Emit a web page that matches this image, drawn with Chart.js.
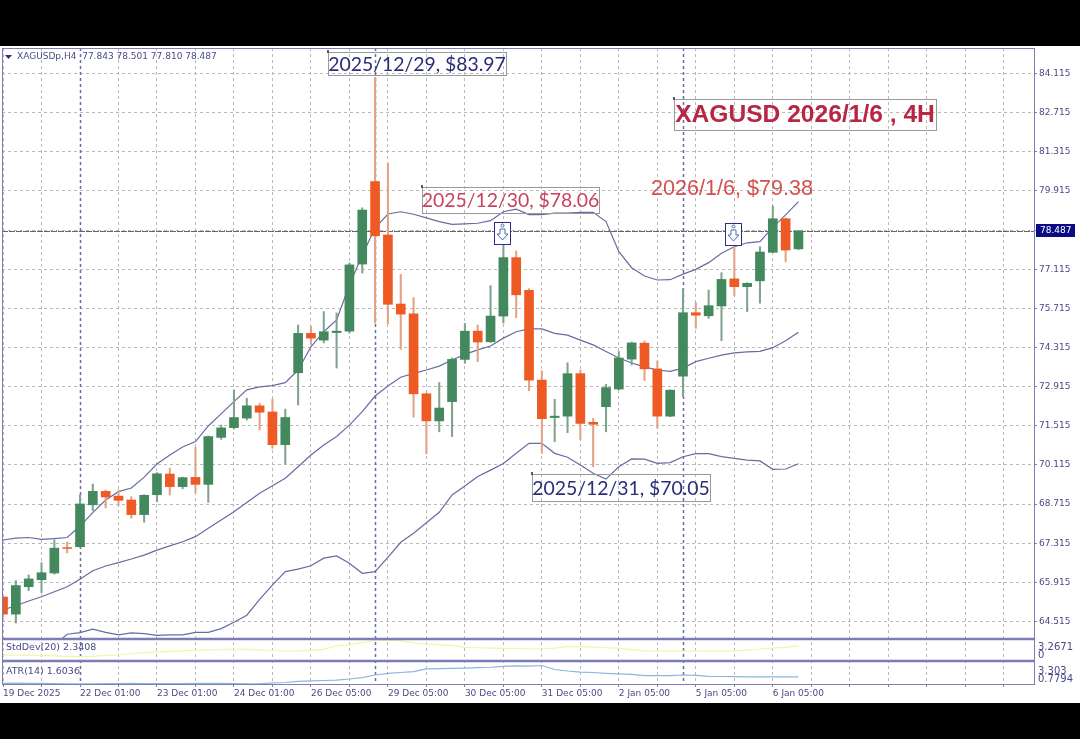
<!DOCTYPE html>
<html>
<head>
<meta charset="utf-8">
<title>XAGUSD 2026/1/6 4H</title>
<script src="https://cdn.jsdelivr.net/npm/chart.js@4/dist/chart.umd.js"></script>
<style>
  html, body { margin: 0; padding: 0; background: #000; overflow: hidden; }
  #wrap { position: absolute; left: 0; top: 46px; width: 1080px; height: 657px; background: #fff; }
  canvas { display: block; }
</style>
</head>
<body>
<div id="wrap"><canvas id="chart" width="1080" height="657"></canvas></div>
<script>
// 4H candles, one entry per bar
const opens = [65.39, 64.78, 65.76, 66.01, 66.25, 67.16, 67.19, 68.69, 69.17, 69.00, 68.86, 68.34, 69.05, 69.79, 69.34, 69.67, 69.42, 71.10, 71.45, 71.79, 72.23, 72.01, 70.84, 73.41, 74.82, 74.58, 74.85, 74.90, 77.30, 80.25, 78.34, 75.87, 75.52, 72.66, 71.69, 72.38, 73.89, 74.90, 74.52, 75.44, 77.53, 76.36, 73.15, 71.81, 71.86, 73.38, 71.64, 72.20, 72.83, 73.90, 74.47, 73.55, 71.86, 73.29, 75.56, 75.45, 75.80, 76.77, 76.49, 76.70, 77.72, 78.92, 77.843];
const highs = [65.46, 65.98, 66.18, 66.62, 67.43, 67.36, 69.04, 69.43, 69.22, 69.22, 68.98, 69.05, 69.84, 70.00, 69.68, 70.75, 71.15, 71.54, 72.80, 72.50, 72.32, 72.46, 72.11, 75.12, 75.08, 75.60, 75.55, 77.34, 79.31, 83.97, 80.91, 76.93, 76.10, 72.69, 73.06, 73.94, 75.18, 75.12, 76.53, 78.06, 77.77, 76.42, 73.48, 72.46, 73.77, 73.51, 71.78, 73.00, 74.17, 74.51, 74.55, 73.83, 72.80, 76.43, 75.92, 76.37, 76.99, 77.92, 76.63, 77.92, 79.38, 78.95, 78.501];
const lows = [64.68, 64.46, 65.62, 65.54, 66.21, 66.97, 67.18, 68.48, 68.58, 68.66, 68.21, 68.07, 68.80, 69.04, 69.26, 69.12, 68.78, 71.03, 71.40, 71.72, 71.37, 70.71, 70.15, 72.26, 74.41, 74.48, 73.58, 74.83, 76.98, 75.19, 75.16, 74.25, 71.82, 70.51, 71.30, 71.13, 73.75, 73.81, 74.50, 75.19, 75.38, 72.77, 70.53, 70.95, 71.27, 71.03, 70.05, 71.30, 72.80, 73.69, 73.13, 71.43, 71.84, 72.56, 75.00, 75.36, 74.56, 76.16, 75.60, 75.90, 77.71, 77.38, 77.810];
const closes = [64.78, 65.80, 66.04, 66.26, 67.14, 67.13, 68.72, 69.17, 68.97, 68.85, 68.34, 69.03, 69.80, 69.34, 69.66, 69.42, 71.13, 71.44, 71.81, 72.23, 72.00, 70.84, 71.81, 74.82, 74.65, 74.88, 74.90, 77.27, 79.23, 78.31, 75.86, 75.51, 72.66, 71.69, 72.15, 73.89, 74.90, 74.51, 75.44, 77.53, 76.20, 73.15, 71.77, 71.86, 73.38, 71.60, 71.57, 72.88, 73.94, 74.48, 73.55, 71.86, 72.79, 75.56, 75.47, 75.81, 76.75, 76.49, 76.61, 77.73, 78.92, 77.80, 78.487];

// Bollinger bands; the lower one starts under the pane
const bandUpper = [67.43, 67.50, 67.52, 67.45, 67.48, 67.52, 67.93, 68.41, 68.86, 69.16, 69.29, 69.68, 70.15, 70.47, 70.76, 70.95, 71.51, 71.94, 72.38, 72.80, 72.91, 72.95, 73.06, 73.51, 74.34, 74.88, 75.30, 76.55, 77.62, 78.59, 79.09, 79.17, 79.08, 78.95, 78.82, 78.72, 78.74, 78.76, 78.85, 79.17, 79.26, 79.07, 79.07, 79.12, 79.12, 79.15, 79.15, 78.82, 77.74, 77.17, 76.87, 76.73, 76.74, 76.94, 77.11, 77.35, 77.69, 77.92, 78.06, 78.10, 78.61, 79.06, 79.53];
const bandMiddle = [64.93, 65.08, 65.25, 65.40, 65.58, 65.76, 66.03, 66.33, 66.50, 66.62, 66.75, 66.89, 67.07, 67.22, 67.37, 67.55, 67.85, 68.15, 68.44, 68.77, 69.10, 69.37, 69.64, 70.05, 70.47, 70.83, 71.13, 71.54, 72.02, 72.58, 72.94, 73.25, 73.39, 73.51, 73.65, 73.87, 74.07, 74.23, 74.37, 74.65, 74.88, 74.98, 74.98, 74.82, 74.76, 74.58, 74.41, 74.17, 73.94, 73.76, 73.62, 73.51, 73.46, 73.58, 73.81, 73.93, 74.04, 74.12, 74.16, 74.18, 74.31, 74.56, 74.86];
const bandLower = [null, null, null, null, 63.67, 64.06, 64.12, 64.24, 64.13, 64.04, 64.11, 64.08, 64.02, 64.04, 64.04, 64.13, 64.13, 64.26, 64.49, 64.74, 65.31, 65.82, 66.30, 66.39, 66.51, 66.78, 66.86, 66.60, 66.24, 66.30, 66.81, 67.35, 67.67, 68.05, 68.42, 69.04, 69.36, 69.70, 69.93, 70.17, 70.53, 70.89, 70.89, 70.53, 70.39, 70.11, 69.82, 69.61, 70.05, 70.33, 70.32, 70.17, 70.20, 70.41, 70.52, 70.52, 70.41, 70.35, 70.29, 70.26, 69.96, 69.97, 70.16];

// lower panes
const stdDev = [0.80, 0.78, 0.75, 0.72, 0.68, 0.60, 0.55, 0.60, 0.75, 0.82, 1.06, 1.20, 1.30, 1.40, 1.50, 1.63, 1.65, 1.70, 1.80, 1.75, 1.65, 1.55, 1.47, 1.50, 1.63, 1.75, 2.30, 2.50, 2.85, 3.20, 3.25, 3.15, 2.80, 2.60, 2.50, 2.35, 2.05, 2.00, 1.95, 1.90, 1.90, 1.80, 1.85, 1.95, 2.20, 2.20, 2.10, 2.00, 1.90, 1.70, 1.50, 1.47, 1.45, 1.47, 1.47, 1.45, 1.45, 1.50, 1.60, 1.80, 1.95, 2.05, 2.3408];
const atr = [0.85, 0.88, 0.86, 0.84, 0.82, 0.80, 0.80, 0.81, 0.82, 0.83, 0.84, 0.83, 0.82, 0.82, 0.83, 0.85, 0.85, 0.84, 0.82, 0.80, 0.79, 0.90, 0.95, 1.07, 1.14, 1.18, 1.22, 1.35, 1.52, 1.81, 2.00, 2.10, 2.20, 2.52, 2.55, 2.57, 2.61, 2.65, 2.70, 2.80, 2.85, 2.84, 2.90, 2.44, 2.27, 2.15, 2.10, 2.00, 1.93, 1.88, 1.73, 1.73, 1.75, 1.81, 1.78, 1.66, 1.64, 1.62, 1.60, 1.60, 1.60, 1.60, 1.6036];

// axes
const xTickLabels = ["19 Dec 2025", "22 Dec 01:00", "23 Dec 01:00", "24 Dec 01:00", "26 Dec 05:00", "29 Dec 05:00", "30 Dec 05:00", "31 Dec 05:00", "2 Jan 05:00", "5 Jan 05:00", "6 Jan 05:00"];
const yTickValues = [84.115, 82.715, 81.315, 79.915, 78.515, 77.115, 75.715, 74.315, 72.915, 71.515, 70.115, 68.715, 67.315, 65.915, 64.515];
const weekSeparators = [6, 29, 53];
const lastPrice = 78.487;

const GREEN = "#44885d";
const ORANGE = "#ee5a24";
const GREEN_WICK = "#7fa48d";
const ORANGE_WICK = "#e3a283";
const FRAME = "#7d7db5";
const AXIS_TEXT = "#4a4a86";
const NAVY = "#2c2c78";
const CRIMSON = "#c9415f";

const isUp = closes.map((c, i) => c >= opens[i]);

function boxedText(ctx, text, font, color, x, y, w, h) {
  ctx.strokeStyle = "#9a9a9a";
  ctx.lineWidth = 1;
  ctx.strokeRect(x + 0.5, y + 0.5, w, h);
  // little anchor tick on the box corner
  ctx.fillStyle = "#55557a";
  ctx.fillRect(x - 1, y - 2, 2, 3);
  ctx.font = font;
  ctx.fillStyle = color;
  ctx.textAlign = "center";
  ctx.textBaseline = "middle";
  ctx.fillText(text, x + w / 2, y + h / 2 + 1);
}

function sellArrow(ctx, x, y) {
  ctx.strokeStyle = "#2d2d80";
  ctx.lineWidth = 1;
  ctx.strokeRect(x + 0.5, y + 0.5, 16, 22);
  ctx.fillStyle = "#fff";
  ctx.fillRect(x + 1, y + 1, 15, 21);
  ctx.strokeStyle = "#4a6bb0";
  ctx.beginPath();
  ctx.arc(x + 8.5, y + 3.5, 1.5, 0, Math.PI * 2);
  ctx.stroke();
  ctx.beginPath();
  ctx.moveTo(x + 6, y + 7);
  ctx.lineTo(x + 11, y + 7);
  ctx.lineTo(x + 11, y + 12);
  ctx.lineTo(x + 14, y + 12);
  ctx.lineTo(x + 8.5, y + 18);
  ctx.lineTo(x + 3, y + 12);
  ctx.lineTo(x + 6, y + 12);
  ctx.closePath();
  ctx.stroke();
}

const chartDecor = {
  id: "chartDecor",
  beforeDatasetsDraw(chart) {
    const { ctx, chartArea, scales } = chart;
    ctx.save();
    // heavier separators at the start of each week
    ctx.strokeStyle = "#6a6aa6";
    ctx.lineWidth = 1.5;
    ctx.setLineDash([3, 3]);
    weekSeparators.forEach((bar) => {
      const x = Math.round(scales.x.getPixelForValue(bar)) + 0.5;
      ctx.beginPath();
      ctx.moveTo(x, chartArea.top);
      ctx.lineTo(x, chartArea.bottom);
      ctx.stroke();
    });
    // last price line
    const py = Math.round(scales.y.getPixelForValue(lastPrice)) + 0.5;
    ctx.strokeStyle = "#666";
    ctx.lineWidth = 1;
    ctx.setLineDash([6, 1]);
    ctx.beginPath();
    ctx.moveTo(chartArea.left, py);
    ctx.lineTo(chartArea.right, py);
    ctx.stroke();
    ctx.restore();
  },
  afterDraw(chart) {
    const { ctx, chartArea, scales } = chart;
    const { left, right, top, bottom } = chartArea;
    ctx.save();

    // pane frame
    ctx.strokeStyle = FRAME;
    ctx.lineWidth = 1;
    ctx.strokeRect(left + 0.5, top + 0.5, right - left, bottom - top);
    ctx.lineWidth = 2.5;
    [scales.yStd.top, scales.yAtr.top].forEach((y) => {
      ctx.beginPath();
      ctx.moveTo(left, y);
      ctx.lineTo(right, y);
      ctx.stroke();
    });

    // indicator names
    ctx.fillStyle = AXIS_TEXT;
    ctx.font = "9px 'DejaVu Sans'";
    ctx.textAlign = "left";
    ctx.textBaseline = "middle";
    ctx.fillText("XAGUSDp,H4  77.843 78.501 77.810 78.487", 17, 11);
    ctx.font = "9.5px 'DejaVu Sans'";
    ctx.fillText("StdDev(20) 2.3408", 6, 602);
    ctx.fillText("ATR(14) 1.6036", 6, 626);
    ctx.fillStyle = "#2c2c78";
    ctx.beginPath();
    ctx.moveTo(5, 9);
    ctx.lineTo(12, 9);
    ctx.lineTo(8.5, 13);
    ctx.closePath();
    ctx.fill();

    // right side labels of the lower panes
    ctx.fillStyle = AXIS_TEXT;
    ctx.font = "10px 'DejaVu Sans'";
    ctx.fillText("3.2671", 1038, 601.5);
    ctx.fillText("0", 1038, 609);
    ctx.fillText("3.303", 1038, 625);
    ctx.fillText("0.7794", 1038, 633.5);

    // last price tag
    const py = Math.round(scales.y.getPixelForValue(lastPrice));
    ctx.fillStyle = "#0b0b86";
    ctx.fillRect(1036, py - 7, 39, 13);
    ctx.fillStyle = "#fff";
    ctx.font = "9px 'DejaVu Sans'";
    ctx.fillText(lastPrice.toFixed(3), 1040, py);

    // call-outs
    boxedText(ctx, "2025/12/29, $83.97", "19.4px Lato", NAVY, 328, 6, 178, 23);
    boxedText(ctx, "2025/12/30, $78.06", "19.4px Lato", CRIMSON, 422, 141, 177, 26);
    boxedText(ctx, "2025/12/31, $70.05", "19.4px Lato", NAVY, 532, 428, 178, 27);
    boxedText(ctx, "XAGUSD 2026/1/6 , 4H", "bold 24.6px 'Liberation Sans'", "#b72643", 674, 53, 262, 31);
    ctx.font = "21.6px 'Liberation Sans'";
    ctx.fillStyle = "#d2504f";
    ctx.textAlign = "left";
    ctx.fillText("2026/1/6, $79.38", 651, 143);

    sellArrow(ctx, 494, 176);
    sellArrow(ctx, 725, 177);
    ctx.restore();
  },
};

function bandLine(values, color, axis) {
  return {
    type: "line",
    data: values.map((v, i) => ({ x: i, y: v })),
    borderColor: color,
    borderWidth: 1.2,
    pointRadius: 0,
    tension: 0,
    yAxisID: axis || "y",
    order: 5,
  };
}

// right-hand axes keep a fixed width and no label overflow, so the panes land where they should
function fitRightAxis(s) {
  s.width = 46;
  s.paddingTop = 0;
  s.paddingBottom = 0;
}

new Chart(document.getElementById("chart"), {
  type: "bar",
  plugins: [chartDecor],
  data: {
    datasets: [
      bandLine(bandUpper, "#6a6aa0"),
      bandLine(bandMiddle, "#6a6aa0"),
      bandLine(bandLower, "#6a6aa0"),
      bandLine(stdDev, "#f6f4a6", "yStd"),
      bandLine(atr, "#8db6dd", "yAtr"),
      {
        // wicks
        data: lows.map((l, i) => ({ x: i, y: [l, highs[i]] })),
        backgroundColor: isUp.map((up) => (up ? GREEN_WICK : ORANGE_WICK)),
        barThickness: 1.4,
        grouped: false,
        order: 2,
      },
      {
        // bodies
        data: opens.map((o, i) => ({ x: i, y: [o, closes[i]] })),
        backgroundColor: isUp.map((up) => (up ? GREEN : ORANGE)),
        barThickness: 9,
        grouped: false,
        order: 1,
      },
    ],
  },
  options: {
    responsive: false,
    animation: false,
    layout: { padding: { left: 2, top: 2, right: 0, bottom: 0 } },
    plugins: { legend: { display: false }, tooltip: { enabled: false } },
    scales: {
      x: {
        type: "linear",
        offset: false,
        min: -0.08,
        max: 80.36,
        afterFit: (s) => { s.height = 19; s.paddingLeft = 0; s.paddingRight = 0; },
        grid: { offset: false, color: "#b9b9b9", tickColor: FRAME, tickLength: 3 },
        border: { display: false, dash: [3, 3] },
        ticks: {
          stepSize: 3,
          includeBounds: false,
          autoSkip: false,
          maxRotation: 0,
          align: "start",
          padding: 1,
          color: AXIS_TEXT,
          font: { family: "DejaVu Sans", size: 9 },
          callback: (v) => (v % 6 === 0 ? xTickLabels[v / 6] || "" : ""),
        },
      },
      y: {
        position: "right",
        stack: "panes",
        stackWeight: 591,
        weight: 0,
        min: 63.89,
        max: 85.027,
        afterFit: fitRightAxis,
        afterBuildTicks: (s) => { s.ticks = yTickValues.map((value) => ({ value })); },
        grid: { color: "#b9b9b9", tickColor: FRAME, tickLength: 3 },
        border: { display: false, dash: [3, 3] },
        ticks: {
          padding: 2,
          color: AXIS_TEXT,
          font: { family: "DejaVu Sans", size: 9 },
          callback: (v) => v.toFixed(3),
        },
      },
      yStd: {
        position: "right",
        stack: "panes",
        stackWeight: 22,
        weight: 1,
        min: -0.16,
        max: 3.43,
        afterFit: fitRightAxis,
        grid: { display: false },
        border: { display: false },
        ticks: { display: false },
      },
      yAtr: {
        position: "right",
        stack: "panes",
        stackWeight: 23,
        weight: 2,
        min: 0.7794,
        max: 3.418,
        afterFit: fitRightAxis,
        grid: { display: false },
        border: { display: false },
        ticks: { display: false },
      },
    },
  },
});
</script>
</body>
</html>
